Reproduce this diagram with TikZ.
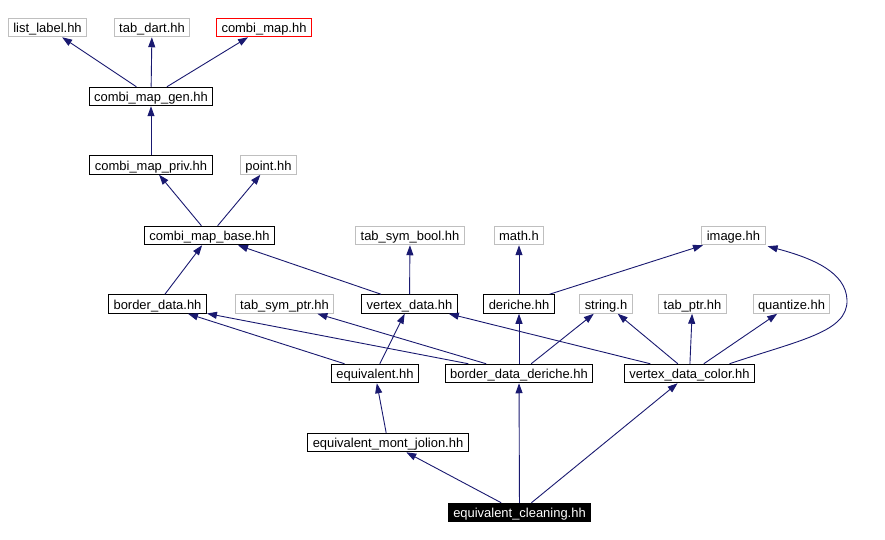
\documentclass[tikz,border=0pt]{standalone}
\usepackage{fontspec}
\setmainfont{Liberation Sans}
\usetikzlibrary{arrows.meta}
\definecolor{edgeblue}{HTML}{191970}
\definecolor{boxgray}{HTML}{BFBFBF}
\tikzset{
  file/.style={draw=black, line width=1bp, rectangle, inner xsep=5bp, inner ysep=0pt,
    minimum height=18.5bp, text height=10.5bp, text depth=0bp,
    font=\fontsize{13}{15}\selectfont, fill=white},
  extfile/.style={file, draw=boxgray},
  redfile/.style={file, draw=red},
  rootfile/.style={file, fill=black, text=white},
  edge/.style={draw=edgeblue, line width=0.9bp, -{Triangle[length=10bp,width=7bp]}}
}
\begin{document}
\begin{tikzpicture}[x=1bp,y=-1bp]
\useasboundingbox (0,0) rectangle (885,540);
% row 1
\node[extfile] (list) at (47.5,27.5) {list\_label.hh};
\node[extfile] (dart) at (152,27.5) {tab\_dart.hh};
\node[redfile] (cmap) at (264,27.5) {combi\_map.hh};
% row 2
\node[file] (gen) at (151,96.5) {combi\_map\_gen.hh};
% row 3
\node[file] (priv) at (151,165) {combi\_map\_priv.hh};
\node[extfile] (point) at (268.5,165) {point.hh};
% row 4
\node[file] (base) at (209.5,235.5) {combi\_map\_base.hh};
\node[extfile] (tsb) at (410,235.5) {tab\_sym\_bool.hh};
\node[extfile] (math) at (519,235.5) {math.h};
\node[extfile] (image) at (733.5,235.5) {image.hh};
% row 5
\node[file] (bd) at (157.5,304) {border\_data.hh};
\node[extfile] (tsp) at (284.5,304) {tab\_sym\_ptr.hh};
\node[file] (vd) at (409.5,304) {vertex\_data.hh};
\node[file] (der) at (519,304) {deriche.hh};
\node[extfile] (str) at (606,304) {string.h};
\node[extfile] (tptr) at (692.5,304) {tab\_ptr.hh};
\node[extfile] (quant) at (791.5,304) {quantize.hh};
% row 6
\node[file] (equiv) at (375,373.5) {equivalent.hh};
\node[file] (bdd) at (519,373.5) {border\_data\_deriche.hh};
\node[file] (vdc) at (689.5,373.5) {vertex\_data\_color.hh};
% row 7
\node[file] (mont) at (388,442.5) {equivalent\_mont\_jolion.hh};
% row 8
\node[rootfile] (clean) at (519.5,512.5) {equivalent\_cleaning.hh};

% edges
\draw[edge] (gen) -- (list);
\draw[edge] (gen) -- (dart);
\draw[edge] (gen) -- (cmap);
\draw[edge] (priv) -- (gen);
\draw[edge] (base) -- (priv);
\draw[edge] (base) -- (point);
\draw[edge] (bd) -- (base);
\draw[edge] (vd) -- (base);
\draw[edge] (vd) -- (tsb);
\draw[edge] (der) -- (math);
\draw[edge] (der) -- (image);
\draw[edge] (equiv) -- (bd);
\draw[edge] (equiv) -- (vd);
\draw[edge] (bdd) -- (bd);
\draw[edge] (bdd) -- (tsp);
\draw[edge] (bdd) -- (der);
\draw[edge] (bdd) -- (str);
\draw[edge] (vdc) -- (vd);
\draw[edge] (vdc) -- (str);
\draw[edge] (vdc) -- (tptr);
\draw[edge] (vdc) -- (quant);
\draw[edge] ([xshift=40bp]vdc.north) .. controls (800,340) and (848,332) .. (847,300)
  .. controls (846,272) and (812,258) .. ([xshift=2bp,yshift=-1bp]image.south east);
\draw[edge] (mont) -- (equiv);
\draw[edge] (clean) -- (mont);
\draw[edge] (clean) -- (bdd);
\draw[edge] (clean) -- (vdc);
\end{tikzpicture}
\end{document}
